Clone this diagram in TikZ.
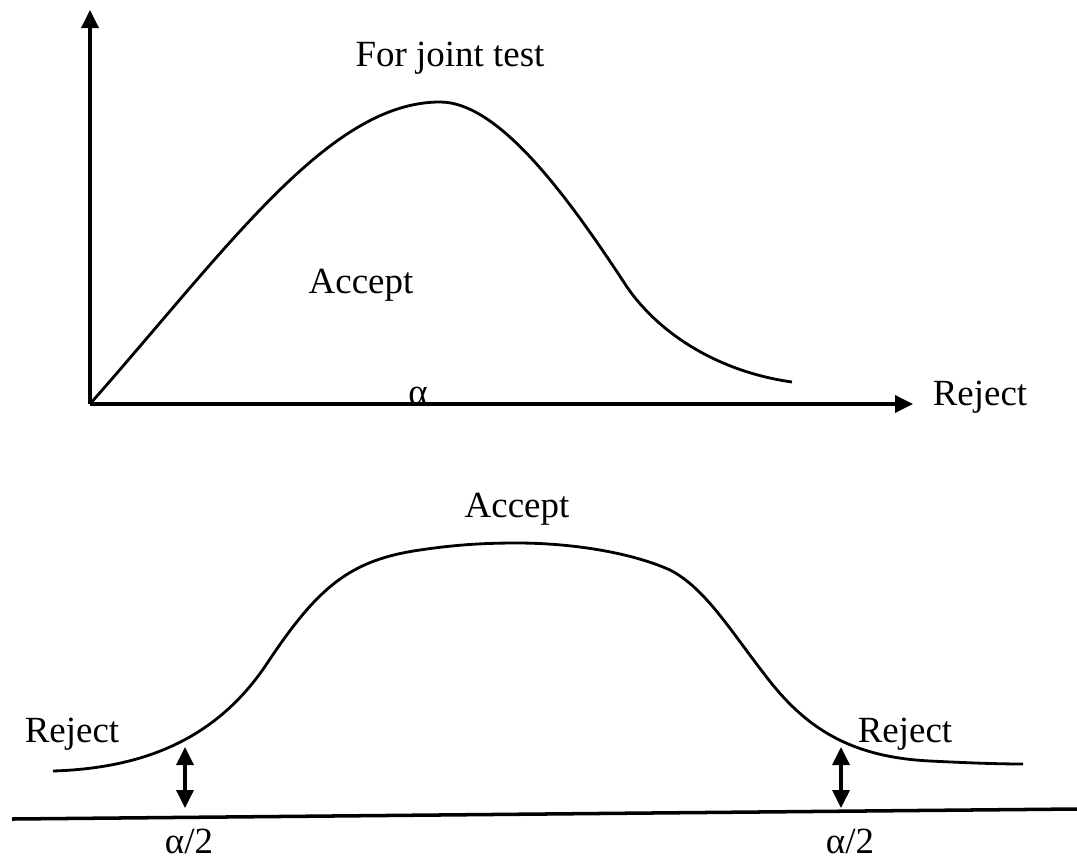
\documentclass[tikz,border=0pt]{standalone}
\usepackage{fontspec}
\setmainfont{Liberation Serif}
\usetikzlibrary{arrows.meta}
\tikzset{
  >={Triangle[length=1.8mm,width=1.7mm]},
  % akser og kurver
  ax/.style={->,draw=black,line width=1pt},
  base/.style={draw=black,line width=1pt},
  kurve/.style={draw=black,line width=0.8pt},
  gap/.style={<->,draw=black,line width=1pt},
  % tekst
  lbl/.style={font=\fontsize{10.5}{12}\selectfont,inner sep=0pt,anchor=base},
}
\begin{document}
\begin{tikzpicture}[x=0.01cm,y=-0.01cm]
\useasboundingbox (0,0) rectangle (1077,861);
  % ensidig test
  \coordinate (o) at (90,404);
  \coordinate (ytop) at (90,10);
  \coordinate (xend) at (913,404);
  \draw[ax] (o) -- (ytop);
  \draw[ax] (o) -- (xend);
  \draw[kurve] (o) .. controls (230,245) and (330,102) .. (440,102)
    .. controls (500,102) and (570,200) .. (627,287)
    .. controls (660,335) and (720,372) .. (792,382);
  \node[lbl] (joint) at (450,67) {For joint test};
  \node[lbl] (acc1) at (361,293) {Accept};
  \node[lbl] (alpha) at (418,404) {α};
  \node[lbl] (rej1) at (980,405) {Reject};
  % tosidig test
  \coordinate (bl) at (12,819);
  \coordinate (br) at (1077,809);
  \draw[base] (bl) -- (br);
  \draw[kurve] (53,771) .. controls (150,768) and (220,735) .. (268,662)
    .. controls (318,587) and (350,560) .. (420,550)
    .. controls (460,544) and (490,543) .. (517,543)
    .. controls (570,543) and (630,552) .. (670,570)
    .. controls (705,588) and (730,630) .. (765,675)
    .. controls (805,728) and (850,757) .. (930,761)
    .. controls (970,763) and (1000,764) .. (1023,764);
  \coordinate (la) at (185,747);
  \coordinate (lb) at (185,808);
  \coordinate (ra) at (841,747);
  \coordinate (rb) at (841,808);
  \draw[gap] (la) -- (lb);
  \draw[gap] (ra) -- (rb);
  \node[lbl] (acc2) at (517,517) {Accept};
  \node[lbl] (rej2) at (72,742) {Reject};
  \node[lbl] (rej3) at (905,742) {Reject};
  \node[lbl] (half1) at (189,853) {α/2};
  \node[lbl] (half2) at (850,853) {α/2};
\end{tikzpicture}
\end{document}
